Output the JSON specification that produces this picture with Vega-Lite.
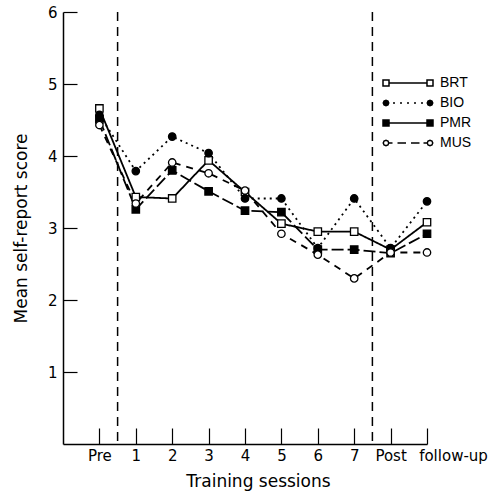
{
  "$schema": "https://vega.github.io/schema/vega-lite/v6.json",
  "width": 364,
  "height": 432,
  "autosize": "none",
  "padding": {"left": 63, "top": 12, "right": 72, "bottom": 50},
  "background": "white",
  "config": {
    "view": {"stroke": null},
    "axis": {
      "grid": false,
      "domainColor": "black",
      "domainWidth": 1.5,
      "tickColor": "black",
      "tickWidth": 1.2,
      "labelColor": "black",
      "titleColor": "black",
      "labelFont": "DejaVu Sans",
      "titleFont": "DejaVu Sans",
      "labelFontSize": 15,
      "titleFontSize": 17,
      "titleFontWeight": "normal",
      "labelFlush": false,
      "labelOverlap": false,
      "labelBound": false
    },
    "legend": {
      "labelFont": "Liberation Sans",
      "labelFontSize": 14,
      "labelColor": "black"
    }
  },
  "datasets": {
    "scores": [
      {"group": "BRT", "t": 0, "score": 4.66},
      {"group": "BRT", "t": 1, "score": 3.43},
      {"group": "BRT", "t": 2, "score": 3.41},
      {"group": "BRT", "t": 3, "score": 3.94},
      {"group": "BRT", "t": 4, "score": 3.5},
      {"group": "BRT", "t": 5, "score": 3.06},
      {"group": "BRT", "t": 6, "score": 2.95},
      {"group": "BRT", "t": 7, "score": 2.95},
      {"group": "BRT", "t": 8, "score": 2.7},
      {"group": "BRT", "t": 9, "score": 3.08},
      {"group": "BIO", "t": 0, "score": 4.57},
      {"group": "BIO", "t": 1, "score": 3.79},
      {"group": "BIO", "t": 2, "score": 4.27},
      {"group": "BIO", "t": 3, "score": 4.04},
      {"group": "BIO", "t": 4, "score": 3.41},
      {"group": "BIO", "t": 5, "score": 3.41},
      {"group": "BIO", "t": 6, "score": 2.72},
      {"group": "BIO", "t": 7, "score": 3.41},
      {"group": "BIO", "t": 8, "score": 2.72},
      {"group": "BIO", "t": 9, "score": 3.37},
      {"group": "PMR", "t": 0, "score": 4.51},
      {"group": "PMR", "t": 1, "score": 3.26},
      {"group": "PMR", "t": 2, "score": 3.8},
      {"group": "PMR", "t": 3, "score": 3.51},
      {"group": "PMR", "t": 4, "score": 3.24},
      {"group": "PMR", "t": 5, "score": 3.22},
      {"group": "PMR", "t": 6, "score": 2.7},
      {"group": "PMR", "t": 7, "score": 2.7},
      {"group": "PMR", "t": 8, "score": 2.65},
      {"group": "PMR", "t": 9, "score": 2.92},
      {"group": "MUS", "t": 0, "score": 4.43},
      {"group": "MUS", "t": 1, "score": 3.34},
      {"group": "MUS", "t": 2, "score": 3.91},
      {"group": "MUS", "t": 3, "score": 3.76},
      {"group": "MUS", "t": 4, "score": 3.52},
      {"group": "MUS", "t": 5, "score": 2.92},
      {"group": "MUS", "t": 6, "score": 2.63},
      {"group": "MUS", "t": 7, "score": 2.3},
      {"group": "MUS", "t": 8, "score": 2.66},
      {"group": "MUS", "t": 9, "score": 2.66}
    ],
    "phases": [
      {"t": 0.5},
      {"t": 7.5}
    ]
  },
  "layer": [
    {
      "data": {"name": "phases"},
      "mark": {"type": "rule", "color": "black", "strokeWidth": 1.5, "strokeDash": [9, 6]},
      "encoding": {
        "x": {"field": "t", "type": "quantitative", "scale": {"domain": [-1, 9], "nice": false, "zero": false}}
      }
    },
    {
      "data": {"name": "scores"},
      "mark": {"type": "line", "color": "black", "strokeWidth": 1.8},
      "encoding": {
        "x": {
          "field": "t",
          "type": "quantitative",
          "scale": {"domain": [-1, 9], "nice": false, "zero": false},
          "title": "Training sessions",
          "axis": {
            "values": [0, 1, 2, 3, 4, 5, 6, 7, 8, 9],
            "labelExpr": "datum.value == 0 ? 'Pre' : datum.value == 8 ? 'Post' : datum.value == 9 ? 'follow-up' : datum.label",
            "labelOffset": {"condition": {"test": "datum.value == 9", "value": 26}, "value": 0},
            "tickSize": -16,
            "labelPadding": 20,
            "titlePadding": 10,
            "titleX": 195
          }
        },
        "y": {
          "field": "score",
          "type": "quantitative",
          "scale": {"domain": [0, 6], "nice": false},
          "title": "Mean self-report score",
          "axis": {
            "values": [1, 2, 3, 4, 5, 6],
            "format": "d",
            "tickSize": -14,
            "labelPadding": 20,
            "titlePadding": 17
          }
        },
        "strokeDash": {
          "field": "group",
          "type": "nominal",
          "scale": {"domain": ["BIO", "BRT", "MUS", "PMR"], "range": [[2, 4], [1, 0], [7, 6], [12, 4]]},
          "legend": null
        },
        "opacity": {
          "field": "group",
          "type": "nominal",
          "scale": {"domain": ["BRT", "BIO", "PMR", "MUS"], "range": [1, 1, 1, 1]},
          "legend": {
            "title": null,
            "orient": "none",
            "legendX": 334,
            "legendY": 60,
            "symbolSize": 400,
            "symbolStrokeWidth": 1.5,
            "rowPadding": 2,
            "labelOffset": 21
          }
        }
      }
    },
    {
      "data": {"name": "scores"},
      "transform": [{"filter": "datum.group === 'BRT' || datum.group === 'PMR'"}],
      "mark": {"type": "point", "shape": "square", "filled": true, "stroke": "black", "strokeWidth": 1.3, "opacity": 1, "size": 55},
      "encoding": {
        "x": {"field": "t", "type": "quantitative"},
        "y": {"field": "score", "type": "quantitative"},
        "fill": {
          "field": "group",
          "type": "nominal",
          "scale": {"domain": ["BRT", "BIO", "PMR", "MUS"], "range": ["white", "black", "black", "white"]},
          "legend": null
        }
      }
    },
    {
      "data": {"name": "scores"},
      "transform": [{"filter": "datum.group === 'BIO' || datum.group === 'MUS'"}],
      "mark": {"type": "point", "shape": "circle", "filled": true, "stroke": "black", "strokeWidth": 1.3, "opacity": 1, "size": 55},
      "encoding": {
        "x": {"field": "t", "type": "quantitative"},
        "y": {"field": "score", "type": "quantitative"},
        "fill": {
          "field": "group",
          "type": "nominal",
          "scale": {"domain": ["BRT", "BIO", "PMR", "MUS"], "range": ["white", "black", "black", "white"]},
          "legend": null
        }
      }
    },
    {
      "data": {"name": "scores"},
      "mark": {"type": "point", "filled": true, "strokeWidth": 1.5, "opacity": 0, "size": 0},
      "encoding": {
        "x": {"field": "t", "type": "quantitative"},
        "y": {"field": "score", "type": "quantitative"},
        "shape": {
          "field": "group",
          "type": "nominal",
          "scale": {
            "domain": ["BRT", "BIO", "PMR", "MUS"],
            "range": [
              "M-2.5,-0.3H-1.9V0.3H-2.5Z M-1.9,0H1.9 M1.9,-0.3H2.5V0.3H1.9Z",
              "M-1.925,0L-2.005,0.195L-2.2,0.275L-2.395,0.195L-2.475,0L-2.395,-0.195L-2.2,-0.275L-2.005,-0.195Z M2.475,0L2.395,0.195L2.2,0.275L2.005,0.195L1.925,0L2.005,-0.195L2.2,-0.275L2.395,-0.195Z M-1.5,0H-1.3 M-0.8,0H-0.6 M-0.1,0H0.1 M0.6,0H0.8 M1.3,0H1.5",
              "M-2.5,-0.3H-1.9V0.3H-2.5Z M-1.9,0H1.9 M1.9,-0.3H2.5V0.3H1.9Z",
              "M-1.925,0L-2.005,0.195L-2.2,0.275L-2.395,0.195L-2.475,0L-2.395,-0.195L-2.2,-0.275L-2.005,-0.195Z M2.475,0L2.395,0.195L2.2,0.275L2.005,0.195L1.925,0L2.005,-0.195L2.2,-0.275L2.395,-0.195Z M-1.925,0H-1.55 M-1.05,0H-0.2 M0.3,0H1.15 M1.55,0H1.925"
            ]
          },
          "legend": {
            "title": null,
            "orient": "none",
            "legendX": 334,
            "legendY": 60,
            "symbolSize": 400,
            "symbolStrokeWidth": 1.5,
            "rowPadding": 2,
            "labelOffset": 21
          }
        },
        "fill": {
          "field": "group",
          "type": "nominal",
          "scale": {"domain": ["BRT", "BIO", "PMR", "MUS"], "range": ["white", "black", "black", "white"]},
          "legend": {
            "title": null,
            "orient": "none",
            "legendX": 334,
            "legendY": 60,
            "symbolSize": 400,
            "symbolStrokeWidth": 1.5,
            "rowPadding": 2,
            "labelOffset": 21
          }
        }
      }
    }
  ]
}
